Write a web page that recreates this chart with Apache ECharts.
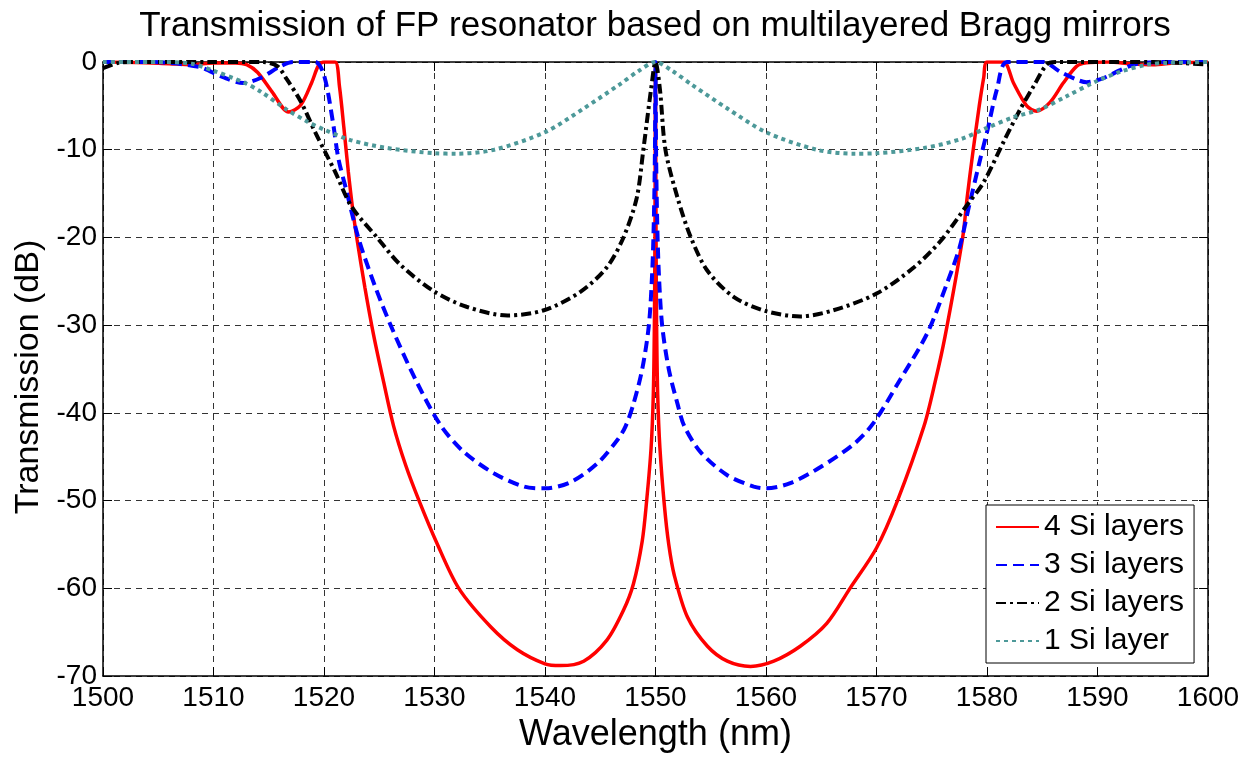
<!DOCTYPE html>
<html>
<head>
<meta charset="utf-8">
<script src="https://cdn.jsdelivr.net/npm/echarts@6/dist/echarts.min.js"></script>
<style>html,body{margin:0;padding:0;background:#fff}#c{width:1251px;height:758px}</style>
</head>
<body>
<div id="c"></div>
<script>
// ---- data ----
const seriesNames = ['4 Si layers', '3 Si layers', '2 Si layers', '1 Si layer'];

const wl4 = [1500,1503,1506,1508,1510,1512,1513,1514,1515.3,1516.8,1517.9,1518.9,1519.5,1520,1521,1521.4,1521.8,1522.2,1522.6,1523,1523.7,1524.5,1525.4,1526.3,1527.4,1528.6,1530.2,1532.2,1535.1,1537.5,1540,1541.4,1543.5,1545.6,1547.1,1548,1548.8,1549.2,1549.6,1549.8,1549.9,1549.95,1550,1550.05,1550.1,1550.2,1550.4,1550.8,1551.2,1551.7,1552.9,1554.7,1556.5,1558.6,1560.7,1563.1,1565.5,1567.6,1570,1571.9,1574.3,1575.3,1576.2,1577.8,1578.2,1578.7,1579.3,1579.7,1580,1581.5,1582.4,1583.6,1584.5,1585.7,1586.9,1588.1,1589,1591,1593,1595,1597,1600];
const t4  = [0,-0.05,-0.2,-0.3,-0.1,-0.1,-0.3,-1.2,-3.4,-5.7,-4.9,-2.3,-0.4,0,0,-2.8,-7.5,-12.5,-16.8,-20.3,-25.7,-31.2,-36.5,-41.5,-46,-50,-54.8,-60,-64.4,-67,-68.6,-68.8,-68.3,-65.9,-62.5,-59.5,-54.6,-50,-44,-38,-30,-20,0,-20,-30,-38,-44,-50.5,-55,-58.5,-63.3,-66.6,-68.3,-68.9,-68.3,-66.6,-64,-60,-55.4,-50,-41.5,-36.5,-31.3,-20,-15.5,-10.5,-5,-1.8,0,0,-2.4,-5.0,-5.6,-4.6,-2.4,-0.5,-0.1,0,-0.2,-0.3,-0.1,0];

const wl3 = [1500,1504,1506,1508.8,1510.8,1512.7,1514.3,1515.9,1517.2,1519.2,1520,1520.8,1521.3,1522,1523.1,1524.6,1526.2,1528.4,1530.6,1532.7,1535.4,1538.1,1540,1542.3,1544.7,1546.6,1547.3,1548,1548.8,1549.4,1549.7,1549.85,1549.95,1550,1550.05,1550.15,1550.3,1550.6,1551.2,1552,1552.6,1554.1,1556.5,1558.9,1560,1562.2,1564.9,1567.9,1569.7,1572,1574.6,1576.3,1577.5,1578.4,1579.4,1580,1580.9,1581.8,1585.1,1586.6,1588.1,1589,1590.6,1592.1,1593.6,1596,1600];
const t3  = [0,0,-0.1,-0.6,-1.7,-2.4,-1.8,-0.6,0,0,-1.5,-6.8,-11,-14.5,-20,-25.5,-30.5,-36.5,-41.5,-44.5,-46.9,-48.4,-48.6,-47.9,-45.8,-43,-41.5,-39,-35,-30,-24,-18,-10,0,-10,-18,-24,-30,-35,-39,-41.5,-44.5,-47.1,-48.4,-48.6,-48,-46.2,-43.6,-41.2,-36.5,-30.9,-25.5,-21.2,-16.3,-11,-8,-3.1,0,0,-1.1,-2.0,-2.3,-1.8,-0.9,-0.2,0,0];

const wl2 = [1500,1501.4,1502.5,1510,1514.5,1515.8,1516.6,1517.9,1519.2,1520.2,1521,1522.5,1524.8,1526.9,1529.9,1532.9,1536.6,1539.9,1543.2,1545.6,1547.1,1548.3,1548.9,1549.6,1550,1550.4,1550.9,1552,1553.2,1554.7,1557.1,1560,1563.1,1566.1,1570,1573.4,1575.8,1578.2,1579.7,1581.5,1583,1584.2,1585.4,1586.2,1595,1600];
const t2  = [-0.7,-0.1,0,0,0,-0.5,-1.9,-4.5,-8,-10.5,-12.5,-16.5,-20,-23.1,-26.1,-27.9,-28.9,-28.3,-26.2,-23.4,-20,-15.5,-10,-3.1,0,-3.1,-10,-15.5,-20,-23.8,-26.8,-28.4,-29,-28.3,-26.4,-23.4,-20.4,-16.3,-13.7,-9.1,-5.4,-2.8,-0.3,0,0,-0.3];

const wl1 = [1500,1505,1508,1510,1512.7,1514.3,1516.6,1518.5,1520,1522.4,1525.7,1530,1532,1535.4,1540,1543.5,1546.7,1548.5,1550,1551.5,1553.3,1556.5,1560,1564.6,1568,1570,1574.3,1577.6,1580,1582.4,1584.8,1587.2,1589.9,1592.1,1594.5,1596.3,1600];
const t1  = [0,0,-0.2,-1.0,-2.3,-3.4,-5.4,-6.8,-7.7,-8.9,-9.8,-10.4,-10.45,-10,-8,-5.3,-2.6,-1,0,-1,-2.6,-5.3,-8,-10,-10.45,-10.4,-9.8,-8.8,-7.5,-6.3,-5.4,-3.9,-2.2,-1.1,-0.3,-0.1,0];

const xTickMin = 1500, xTickMax = 1600, xTickStep = 10;
const yTickMin = -70, yTickMax = 0, yTickStep = 10;

// ---- chart ----
const FONT = '"Liberation Sans", Arial, Helvetica, sans-serif';
function zip(xs, ys) { return xs.map((x, i) => [x, ys[i]]); }

const chart = echarts.init(document.getElementById('c'), null, { renderer: 'canvas' });

const tickStyle = { show: true, inside: true, length: 9, lineStyle: { color: '#000', width: 1 } };
const axLine = { show: true, onZero: false, lineStyle: { color: '#000', width: 1.5 } };
const gridLine = { show: true, lineStyle: { color: '#333', width: 1, type: [6, 5] } };
const lineCommon = { type: 'line', showSymbol: false, symbol: 'none', smooth: 0.3, clip: true };

const option = {
  backgroundColor: '#fff',
  animation: false,
  title: {
    text: 'Transmission of FP resonator based on multilayered Bragg mirrors',
    left: 650, top: 4, textAlign: 'center',
    textStyle: { fontFamily: FONT, fontSize: 35, fontWeight: 'normal', color: '#000' }
  },
  grid: { left: 103, right: 43, top: 62, bottom: 75 },
  legend: {
    orient: 'vertical', left: 986, top: 505,
    backgroundColor: '#fff', borderColor: '#000', borderWidth: 1, borderRadius: 0,
    padding: [7, 10, 7, 9], itemGap: 8, itemWidth: 43, itemHeight: 14,
    itemStyle: { opacity: 0 },
    textStyle: { fontFamily: FONT, fontSize: 30, color: '#000' },
    data: seriesNames
  },
  xAxis: [
    { type: 'value', min: xTickMin, max: xTickMax, interval: xTickStep, position: 'bottom',
      name: 'Wavelength (nm)', nameLocation: 'middle', nameGap: 39,
      nameTextStyle: { fontFamily: FONT, fontSize: 36, color: '#000' },
      axisLine: axLine, axisTick: tickStyle,
      axisLabel: { fontFamily: FONT, fontSize: 28, color: '#000', margin: 8, formatter: v => String(v) },
      splitLine: gridLine },
    { type: 'value', min: xTickMin, max: xTickMax, interval: xTickStep, position: 'top',
      axisLine: axLine, axisTick: tickStyle, axisLabel: { show: false }, splitLine: { show: false } }
  ],
  yAxis: [
    { type: 'value', min: yTickMin, max: yTickMax, interval: yTickStep, position: 'left',
      name: 'Transmission (dB)', nameLocation: 'middle', nameGap: 47, nameRotate: 90,
      nameTextStyle: { fontFamily: FONT, fontSize: 34, color: '#000', padding: [0, 16, 0, 0] },
      axisLine: axLine, axisTick: tickStyle,
      axisLabel: { fontFamily: FONT, fontSize: 28, color: '#000', margin: 6, formatter: v => String(v) },
      splitLine: gridLine },
    { type: 'value', min: yTickMin, max: yTickMax, interval: yTickStep, position: 'right',
      axisLine: axLine, axisTick: tickStyle, axisLabel: { show: false }, splitLine: { show: false } }
  ],
  series: [
    Object.assign({ name: seriesNames[0], data: zip(wl4, t4),
      lineStyle: { color: '#ff0000', width: 3.5, type: 'solid' }, itemStyle: { color: '#ff0000' } }, lineCommon),
    Object.assign({ name: seriesNames[1], data: zip(wl3, t3),
      lineStyle: { color: '#0000ff', width: 4, type: [11, 6] }, itemStyle: { color: '#0000ff' } }, lineCommon),
    Object.assign({ name: seriesNames[2], data: zip(wl2, t2),
      lineStyle: { color: '#000000', width: 4, type: [10, 4, 3, 4] }, itemStyle: { color: '#000000' } }, lineCommon),
    Object.assign({ name: seriesNames[3], data: zip(wl1, t1),
      lineStyle: { color: '#4d9999', width: 4, type: [4, 4] }, itemStyle: { color: '#4d9999' } }, lineCommon)
  ]
};
chart.setOption(option);
</script>
</body>
</html>
